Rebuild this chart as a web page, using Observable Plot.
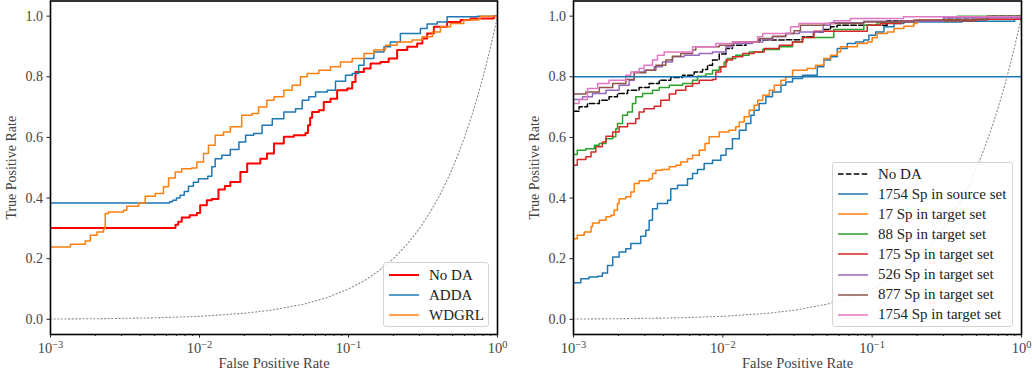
<!DOCTYPE html>
<html><head><meta charset="utf-8">
<script src="https://cdn.jsdelivr.net/npm/d3@7"></script>
<script src="https://cdn.jsdelivr.net/npm/@observablehq/plot@0.6"></script>
<style>
body{margin:0;background:#fff;}
#wrap{position:relative;width:1032px;height:375px;display:flex;font-family:"Liberation Serif",serif;}
.legend{position:absolute;background:rgba(255,255,255,0.85);border:1px solid #d4d4d4;border-radius:3px;box-sizing:border-box;font-size:15px;color:#222;}
.legend .row{position:absolute;left:0;height:20px;display:flex;align-items:center;white-space:nowrap;}
.legend svg{display:block;}
</style></head><body><div id="wrap"></div>
<script>
// ---- axis ticks ----
const xTicks = [0.001, 0.01, 0.1, 1];
const xTickExponents = ["\u22123", "\u22122", "\u22121", "0"];
const xMinorTicks = [0.002,0.003,0.004,0.005,0.006,0.007,0.008,0.009,0.02,0.03,0.04,0.05,0.06,0.07,0.08,0.09,0.2,0.3,0.4,0.5,0.6,0.7,0.8,0.9];
const yTicks = [0, 0.2, 0.4, 0.6, 0.8, 1.0];

// ---- chance diagonal (FPR = TPR) ----
const chanceFPR = [0.001,0.002,0.005,0.01,0.02,0.03,0.05,0.07,0.1,0.13,0.16,0.2,0.25,0.3,0.35,0.4,0.45,0.5,0.55,0.6,0.65,0.7,0.75,0.8,0.85,0.9,0.95,1];
const chanceTPR = [0.001,0.002,0.005,0.01,0.02,0.03,0.05,0.07,0.1,0.13,0.16,0.2,0.25,0.3,0.35,0.4,0.45,0.5,0.55,0.6,0.65,0.7,0.75,0.8,0.85,0.9,0.95,1];

// ---- left panel series [FPR, TPR] ----
const leftNames = ["No DA", "ADDA", "WDGRL"];
const leftColors = ["#ff0000", "#1f77b4", "#ff7f0e"];
const leftNoDA = [[0.001,0.301],[0.0065,0.301],[0.0069,0.312],[0.0072,0.322],[0.0076,0.336],[0.0086,0.343],[0.0096,0.351],[0.0101,0.376],[0.0112,0.393],[0.0121,0.397],[0.0134,0.428],[0.0148,0.44],[0.0161,0.453],[0.0188,0.486],[0.0209,0.514],[0.0256,0.53],[0.0284,0.547],[0.0316,0.58],[0.0368,0.602],[0.043,0.607],[0.0514,0.615],[0.0535,0.64],[0.0553,0.665],[0.057,0.684],[0.0632,0.69],[0.0682,0.717],[0.0757,0.728],[0.0839,0.756],[0.098,0.761],[0.1059,0.783],[0.1114,0.816],[0.1268,0.827],[0.1406,0.844],[0.164,0.849],[0.186,0.86],[0.212,0.888],[0.248,0.899],[0.289,0.91],[0.313,0.926],[0.337,0.943],[0.374,0.965],[0.459,0.981],[0.565,0.987],[0.659,0.992],[0.944,1.0],[1,1]];
const leftADDA = [[0.001,0.384],[0.00589,0.384],[0.0063,0.388],[0.0066,0.393],[0.007,0.4],[0.00741,0.409],[0.0079,0.422],[0.00843,0.439],[0.0091,0.452],[0.00984,0.464],[0.01137,0.472],[0.0121,0.503],[0.01274,0.53],[0.01412,0.541],[0.0161,0.56],[0.0184,0.585],[0.0204,0.607],[0.0231,0.613],[0.0263,0.64],[0.0308,0.662],[0.0368,0.684],[0.0441,0.695],[0.0489,0.723],[0.0542,0.734],[0.0601,0.75],[0.072,0.756],[0.0818,0.785],[0.0955,0.805],[0.106,0.811],[0.117,0.838],[0.127,0.86],[0.148,0.882],[0.173,0.899],[0.191,0.915],[0.223,0.943],[0.267,0.943],[0.304,0.959],[0.337,0.974],[0.394,0.981],[0.459,0.998],[0.73,1.0],[1,1]];
const leftWDGRL = [[0.001,0.239],[0.00136,0.248],[0.00171,0.258],[0.00185,0.277],[0.00205,0.288],[0.00227,0.299],[0.00233,0.349],[0.00245,0.354],[0.00309,0.36],[0.00325,0.373],[0.0039,0.384],[0.00432,0.406],[0.00505,0.415],[0.00573,0.437],[0.0062,0.466],[0.00687,0.486],[0.0076,0.497],[0.00887,0.499],[0.0096,0.519],[0.01064,0.547],[0.01148,0.574],[0.01274,0.607],[0.01449,0.618],[0.0161,0.635],[0.0192,0.673],[0.0225,0.679],[0.0249,0.7],[0.0283,0.723],[0.0316,0.734],[0.0368,0.756],[0.0419,0.772],[0.0476,0.8],[0.0528,0.811],[0.0632,0.822],[0.0757,0.833],[0.0883,0.849],[0.106,0.86],[0.127,0.877],[0.148,0.888],[0.177,0.904],[0.212,0.915],[0.267,0.921],[0.313,0.932],[0.365,0.948],[0.414,0.965],[0.484,0.976],[0.594,0.987],[0.748,0.992],[0.769,1.0],[1,1]];

// ---- right panel series [FPR, TPR] ----
const rightNames = ["No DA","1754 Sp in source set","17 Sp in target set","88 Sp in target set","175 Sp in target set","526 Sp in target set","877 Sp in target set","1754 Sp in target set"];
const rightColors = ["#000000","#1f77b4","#ff7f0e","#2ca02c","#d62728","#9467bd","#8c564b","#e377c2"];
const rightNoDA = [[0.001,0.686],[0.00109,0.701],[0.00124,0.712],[0.00149,0.723],[0.00173,0.734],[0.00197,0.745],[0.0023,0.756],[0.00275,0.765],[0.00321,0.778],[0.00375,0.789],[0.00448,0.798],[0.00537,0.805],[0.00643,0.816],[0.00731,0.824],[0.0079,0.838],[0.00853,0.855],[0.00946,0.875],[0.0105,0.893],[0.0116,0.904],[0.0143,0.915],[0.0171,0.921],[0.0264,0.922],[0.0342,0.932],[0.0405,0.948],[0.047,0.956],[0.0526,0.965],[0.0584,0.97],[0.126,0.985],[0.3,0.99],[0.6,1.0],[1,1]];
const rightSource1754 = [[0.001,0.121],[0.00112,0.134],[0.00127,0.14],[0.00145,0.142],[0.00156,0.153],[0.00169,0.178],[0.00183,0.206],[0.00202,0.222],[0.00224,0.233],[0.00242,0.25],[0.00282,0.274],[0.00305,0.294],[0.00321,0.327],[0.00338,0.365],[0.00365,0.382],[0.00426,0.393],[0.00448,0.431],[0.00497,0.442],[0.0058,0.464],[0.00627,0.481],[0.00677,0.494],[0.0075,0.514],[0.00853,0.525],[0.0097,0.541],[0.0105,0.563],[0.0116,0.596],[0.0129,0.624],[0.0143,0.646],[0.0154,0.673],[0.0162,0.69],[0.0175,0.712],[0.0194,0.734],[0.0215,0.75],[0.0245,0.772],[0.0264,0.783],[0.0293,0.794],[0.0342,0.805],[0.0429,0.833],[0.0474,0.855],[0.0526,0.866],[0.0584,0.893],[0.0681,0.91],[0.0774,0.915],[0.0879,0.921],[0.095,0.937],[0.1055,0.948],[0.12,0.965],[0.14,0.976],[0.163,0.981],[0.4,0.983],[0.9,0.99],[1,1]];
const rightTarget17 = [[0.001,0.266],[0.00106,0.277],[0.00118,0.288],[0.00131,0.305],[0.00134,0.318],[0.00149,0.327],[0.00165,0.338],[0.00178,0.343],[0.00187,0.36],[0.00197,0.382],[0.00202,0.398],[0.00224,0.404],[0.00242,0.42],[0.00255,0.448],[0.00275,0.457],[0.00321,0.464],[0.00338,0.481],[0.00356,0.492],[0.00394,0.494],[0.00438,0.503],[0.00484,0.508],[0.00523,0.519],[0.0058,0.53],[0.00627,0.541],[0.00695,0.558],[0.0076,0.58],[0.0081,0.602],[0.00946,0.618],[0.011,0.624],[0.0122,0.635],[0.0129,0.651],[0.0139,0.668],[0.015,0.69],[0.0162,0.706],[0.0171,0.723],[0.0185,0.739],[0.0205,0.756],[0.0221,0.772],[0.0245,0.789],[0.0264,0.8],[0.0293,0.822],[0.0367,0.827],[0.0418,0.838],[0.0474,0.86],[0.0526,0.871],[0.0584,0.882],[0.0614,0.899],[0.0795,0.91],[0.0927,0.915],[0.1,0.929],[0.108,0.943],[0.126,0.948],[0.14,0.959],[0.163,0.967],[0.19,0.976],[0.2,0.987],[0.5,0.99],[1,1]];
const rightTarget88 = [[0.001,0.544],[0.00106,0.558],[0.00121,0.563],[0.00138,0.574],[0.00149,0.58],[0.00165,0.596],[0.00183,0.602],[0.00192,0.629],[0.00197,0.646],[0.00213,0.673],[0.0023,0.684],[0.00248,0.712],[0.00261,0.734],[0.0029,0.745],[0.00338,0.756],[0.00375,0.765],[0.00438,0.772],[0.00537,0.778],[0.00627,0.789],[0.00677,0.802],[0.00769,0.809],[0.00853,0.822],[0.00946,0.833],[0.0102,0.849],[0.0107,0.86],[0.0122,0.871],[0.015,0.882],[0.0185,0.89],[0.0239,0.899],[0.0293,0.915],[0.0342,0.93],[0.0553,0.956],[0.0879,0.97],[0.108,0.978],[0.15,0.985],[0.37,1.0],[1,1]];
const rightTarget175 = [[0.001,0.508],[0.00106,0.527],[0.00121,0.536],[0.00131,0.552],[0.00141,0.569],[0.00156,0.585],[0.00165,0.604],[0.00183,0.618],[0.00202,0.635],[0.0023,0.646],[0.00261,0.662],[0.00275,0.684],[0.00297,0.695],[0.00347,0.703],[0.00384,0.723],[0.00438,0.743],[0.00484,0.756],[0.00565,0.769],[0.00627,0.778],[0.00695,0.789],[0.00853,0.791],[0.00898,0.816],[0.0097,0.833],[0.0105,0.855],[0.0116,0.866],[0.0136,0.877],[0.0162,0.882],[0.0189,0.893],[0.0239,0.904],[0.0293,0.915],[0.0342,0.93],[0.0407,0.95],[0.0927,0.97],[0.114,0.976],[0.155,0.985],[0.5,0.99],[1,1]];
const rightTarget526 = [[0.001,0.725],[0.00115,0.734],[0.00134,0.745],[0.00165,0.756],[0.00202,0.772],[0.00236,0.789],[0.00255,0.816],[0.00297,0.822],[0.00347,0.833],[0.00394,0.849],[0.0046,0.866],[0.00551,0.871],[0.00695,0.877],[0.00853,0.882],[0.0105,0.899],[0.0116,0.91],[0.0158,0.915],[0.0185,0.922],[0.0215,0.932],[0.0264,0.943],[0.0325,0.948],[0.047,0.97],[0.0526,0.978],[0.0877,0.983],[0.3,0.995],[1,1]];
const rightTarget877 = [[0.001,0.743],[0.00121,0.75],[0.00149,0.765],[0.00183,0.778],[0.00224,0.791],[0.00255,0.813],[0.00305,0.822],[0.00356,0.838],[0.00415,0.855],[0.0046,0.868],[0.00523,0.877],[0.00627,0.888],[0.00659,0.899],[0.00946,0.904],[0.0116,0.915],[0.0175,0.926],[0.0215,0.934],[0.0264,0.943],[0.03,0.952],[0.0331,0.97],[0.0475,0.976],[0.0879,0.981],[0.19,0.987],[0.59,1.0],[1,1]];
const rightTarget1754 = [[0.001,0.712],[0.00109,0.725],[0.00124,0.761],[0.00145,0.778],[0.00173,0.789],[0.00224,0.805],[0.00242,0.816],[0.00275,0.827],[0.00297,0.838],[0.00338,0.855],[0.00365,0.871],[0.00405,0.882],[0.00627,0.899],[0.00898,0.91],[0.0116,0.915],[0.0171,0.932],[0.0185,0.943],[0.0284,0.965],[0.0323,0.976],[0.0553,0.985],[0.0716,0.992],[0.162,0.998],[1,1]];
const rightThresholdTPR = [0.8];

// ---- build ----
const FONT = "Liberation Serif";
const toRows = pts => pts.map(([fpr, tpr]) => ({fpr, tpr}));
const chance = chanceFPR.map((f, i) => ({fpr: f, tpr: chanceTPR[i]}));

function panel({width, marginLeft, marginRight, series, extra = []}) {
  const svg = Plot.plot({
    width, height: 375, marginTop: 0.5, marginBottom: 41, marginLeft, marginRight,
    x: {type: "log", domain: [0.001, 1]},
    y: {domain: [-0.05, 1.05]},
    style: {fontFamily: FONT, fontSize: "14px", color: "#444", background: "transparent", overflow: "visible"},
    marks: [
      Plot.axisX({ticks: xMinorTicks, tickSize: 2, tickFormat: () => "", label: null, stroke: "#222"}),
      Plot.axisX({ticks: xTicks, tickSize: 3.5, tickPadding: 5, stroke: "#222", fontSize: 14.5,
        tickFormat: d => "10^" + xTickExponents[xTicks.indexOf(d)],
        label: "False Positive Rate", labelAnchor: "center", labelArrow: "none", labelOffset: 33}),
      Plot.axisY({ticks: yTicks, tickSize: 3.5, tickPadding: 4, stroke: "#222",
        tickFormat: d => d.toFixed(1),
        label: "True Positive Rate", labelAnchor: "center", labelArrow: "none", labelOffset: 44}),
      ...series.map(s => Plot.line(toRows(s.data), {x: "fpr", y: "tpr", stroke: s.color, strokeWidth: s.width || 1.5,
        strokeDasharray: s.dash, curve: "step-after", clip: true})),
      ...extra,
      Plot.line(chance, {x: "fpr", y: "tpr", stroke: "#8a8a8a", strokeWidth: 1.1, strokeDasharray: "1.2,2.4", clip: true}),
      Plot.frame({stroke: "black", strokeWidth: 1.6})
    ]
  });
  // typeset "10^e" tick labels with a raised exponent
  svg.querySelectorAll("text").forEach(t => {
    const s = t.textContent;
    if (/^10\^/.test(s)) {
      const [base, exp] = s.split("^");
      t.textContent = base;
      const ts = document.createElementNS("http://www.w3.org/2000/svg", "tspan");
      ts.setAttribute("dy", "-0.5em");
      ts.setAttribute("font-size", "0.72em");
      ts.textContent = exp;
      t.append(ts);
    }
  });
  return svg;
}

const wrap = document.getElementById("wrap");

const leftSeries = [
  {data: leftNoDA, color: leftColors[0], width: 2},
  {data: leftADDA, color: leftColors[1]},
  {data: leftWDGRL, color: leftColors[2]}
];
const rightData = [rightNoDA, rightSource1754, rightTarget17, rightTarget88, rightTarget175, rightTarget526, rightTarget877, rightTarget1754];
const rightSeries = rightData.map((d, i) => ({data: d, color: rightColors[i], dash: i === 0 ? "5.5,2.4" : undefined}));

wrap.append(panel({width: 520, marginLeft: 50, marginRight: 23, series: leftSeries}));
wrap.append(panel({width: 512, marginLeft: 53, marginRight: 11, series: rightSeries,
  extra: [Plot.ruleY(rightThresholdTPR, {stroke: "#1f77b4", strokeWidth: 1.5})]}));

function legend({left, top, width, height, names, colors, widths, dashes, firstRow, lineX, textX}) {
  const box = document.createElement("div");
  box.className = "legend";
  Object.assign(box.style, {left: left + "px", top: top + "px", width: width + "px", height: height + "px"});
  names.forEach((name, i) => {
    const row = document.createElement("div");
    row.className = "row";
    row.style.top = (firstRow + i * 20.1 - 10) + "px";
    const sw = widths ? widths[i] : 1.5;
    const da = dashes && dashes[i] ? `stroke-dasharray="${dashes[i]}"` : "";
    row.innerHTML = `<svg width="${textX}" height="20"><line x1="${lineX}" x2="${lineX + 30}" y1="10" y2="10" stroke="${colors[i]}" stroke-width="${sw}" ${da}/></svg><span>${name}</span>`;
    box.append(row);
  });
  wrap.append(box);
}
legend({left: 383, top: 262, width: 106, height: 65, names: leftNames, colors: leftColors, widths: [2, 1.5, 1.5],
  firstRow: 12, lineX: 5, textX: 45});
legend({left: 832, top: 162, width: 181, height: 165, names: rightNames, colors: rightColors,
  dashes: ["5.5,2.4"], firstRow: 11, lineX: 5, textX: 45});
</script></body></html>
